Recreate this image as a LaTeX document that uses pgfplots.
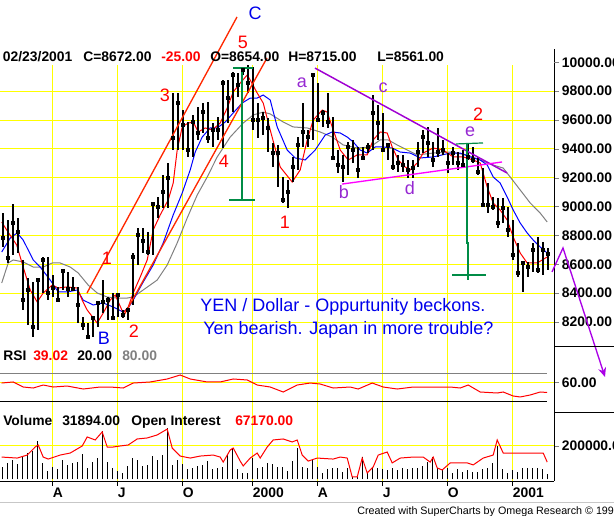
\documentclass[border=0pt]{standalone}
\usepackage{pgfplots}
\pgfplotsset{compat=1.18}
\usepackage{pgfplotstable}
\usepackage{fontspec}
\setmainfont{Liberation Sans}
\usetikzlibrary{arrows.meta}

\definecolor{gridyel}{RGB}{255,255,0}
\definecolor{chanred}{RGB}{255,40,0}
\definecolor{wavepur}{RGB}{160,0,210}
\definecolor{lettpur}{RGB}{150,40,210}
\definecolor{trimag}{RGB}{255,0,255}
\definecolor{mrkgreen}{RGB}{0,140,70}
\definecolor{txtblue}{RGB}{0,0,235}
\definecolor{arrowpur}{RGB}{170,0,230}
\definecolor{magray}{RGB}{128,128,128}

\newcommand{\lab}{\fontsize{10.4}{12}\selectfont\bfseries}
\newcommand{\bigf}{\fontsize{13.5}{16}\selectfont}

% weekly bars: week, high, low, close
\pgfplotstableread{
w h l c
0 8955 8720 8782
1 8907 8609 8644
2 9018 8664 8886
3 8921 8678 8824
4 8630 8283 8352
5 8505 8179 8422
6 8477 8096 8165
7 8498 8145 8491
8 8651 8401 8630
9 8651 8352 8401
10 8526 8373 8436
11 8443 8339 8352
12 8560 8422 8555
13 8547 8373 8429
14 8512 8422 8429
15 8443 8193 8318
16 8235 8145 8179
17 8193 8089 8096
18 8235 8096 8228
19 8339 8165 8332
20 8491 8262 8339
21 8373 8214 8352
22 8401 8214 8230
23 8401 8235 8387
24 8283 8228 8249
25 8304 8214 8283
26 8678 8318 8651
27 8852 8595 8803
28 8852 8678 8761
29 8824 8664 8685
30 9025 8664 9018
31 9066 8921 8997
32 9219 8990 9101
33 9302 8990 9198
34 9787 9392 9475
35 9787 9392 9718
36 9669 9392 9565
37 9586 9344 9392
38 9635 9344 9586
39 9690 9462 9510
40 9718 9510 9655
41 9725 9441 9475
42 9579 9413 9531
43 9621 9462 9531
44 9877 9406 9856
45 9877 9579 9752
46 9933 9655 9912
47 9926 9759 9843
48 9967 9912 9947
49 9981 9787 9856
50 9967 9531 9600
51 9718 9475 9600
52 9655 9496 9614
53 9614 9378 9545
54 9441 9274 9371
55 9427 9136 9371
56 9205 9025 9046
57 9184 8990 9101
58 9344 9170 9274
59 9482 9254 9427
60 9718 9413 9517
61 9531 9413 9482
62 9926 9462 9912
63 9856 9586 9600
64 9669 9552 9649
65 9787 9545 9586
66 9621 9323 9337
67 9392 9233 9288
68 9358 9170 9274
69 9448 9219 9413
70 9462 9302 9392
71 9413 9198 9254
72 9413 9323 9337
73 9441 9371 9413
74 9773 9392 9649
75 9704 9462 9579
76 9649 9378 9392
77 9441 9323 9427
78 9406 9254 9274
79 9358 9240 9302
80 9358 9240 9288
81 9323 9198 9254
82 9323 9198 9267
83 9448 9274 9378
84 9531 9371 9482
85 9552 9344 9441
86 9448 9274 9323
87 9545 9344 9378
88 9462 9358 9392
89 9371 9233 9302
90 9413 9288 9371
91 9378 9254 9302
92 9392 9267 9288
93 9441 9323 9344
94 9413 9302 9323
95 9344 9219 9240
96 9267 8997 9011
97 9163 8955 9011
98 9066 8976 8997
99 9060 8852 8886
100 9060 8886 8990
101 8997 8789 8838
102 8907 8630 8664
103 8748 8512 8540
104 8616 8408 8609
105 8616 8512 8581
106 8748 8547 8699
107 8789 8540 8560
108 8754 8526 8699
109 8715 8561 8672
}\bars

% weekly volume
\pgfplotstableread{
w v
0 77000
1 100000
2 116000
3 92000
4 142000
5 156000
6 170000
7 230000
8 96000
9 51000
10 77000
11 63000
12 116000
13 87000
14 96000
15 106000
16 152000
17 71000
18 106000
19 126000
20 291000
21 106000
22 67000
23 51000
24 37000
25 83000
26 130000
27 116000
28 83000
29 87000
30 140000
31 116000
32 146000
33 305000
34 87000
35 116000
36 92000
37 63000
38 71000
39 81000
40 87000
41 112000
42 63000
43 67000
44 77000
45 146000
46 186000
47 63000
48 37000
49 41000
50 126000
51 67000
52 77000
53 96000
54 92000
55 77000
56 77000
57 51000
58 110000
59 186000
60 77000
61 67000
62 116000
63 77000
64 41000
65 61000
66 71000
67 71000
68 47000
69 71000
70 17000
71 27000
72 136000
73 47000
74 77000
75 67000
76 61000
77 57000
78 67000
79 57000
80 67000
81 61000
82 67000
83 67000
84 81000
85 102000
86 136000
87 71000
88 57000
89 71000
90 41000
91 61000
92 43000
93 57000
94 47000
95 47000
96 63000
97 71000
98 96000
99 200000
100 61000
101 37000
102 57000
103 47000
104 67000
105 71000
106 71000
107 67000
108 61000
109 31894
}\vol

\pgfplotsset{
  panel/.style={
    anchor=north west, scale only axis, width=415.5pt,
    xmin=-0.54, xmax=110.26,
    axis y line*=right,
    tick align=outside, major tick length=3.75pt,
    every axis y line/.append style={line width=0.75pt},
    ymajorgrids, grid style={gridyel, line width=0.75pt},
    yticklabel style={font=\lab, anchor=west, inner sep=0pt, xshift=2pt},
    scaled y ticks=false,
    /pgf/number format/fixed, /pgf/number format/fixed zerofill,
    /pgf/number format/precision=2, /pgf/number format/1000 sep={},
    /pgf/number format/assume math mode=true,
  }
}

\begin{document}
\begin{tikzpicture}
\path[use as bounding box] (0,0) rectangle (460.5pt,-387pt);

% ---- price panel
\begin{axis}[panel, axis x line=none, at={(0pt,-36.75pt)}, height=223.5pt,
  ymin=8026.8, ymax=10092.2, ytick={8200,8400,...,9800},
  extra y ticks={10000}, extra y tick style={grid=none}, clip=false]
\pgfplotsinvokeforeach{10,23,36,50,63,76,89,102}{
  \draw[gridyel, line width=0.75pt] (axis cs:#1,9981) -- (axis cs:#1,8026.8);}
\addplot[magray, line width=0.75pt, mark=none] coordinates {
(-0.2,8470)(1.1,8609)(2.1,8630)(4.1,8616)(6.1,8581)(8.1,8581)(9.9,8609)
(11.5,8609)(13.5,8581)(15.1,8540)(17.1,8456)(18.9,8401)(20.9,8373)(22.9,8366)
(24.9,8366)(26.1,8373)(28.1,8422)(30.9,8491)(32.9,8595)(34.9,8748)(36.9,8921)
(38.9,9080)(40.9,9205)(42.9,9344)(45.5,9482)(48.1,9579)(50.1,9635)(52.1,9655)
(53.5,9642)(56.1,9586)(58.1,9552)(60.9,9545)(63.5,9517)(65.9,9482)(68.1,9427)
(70.9,9406)(73.5,9413)(75.5,9462)(77.1,9462)(78.9,9427)(80.9,9392)(82.9,9358)
(86.1,9371)(89.5,9378)(92.9,9358)(95.5,9323)(98.1,9288)(100.1,9267)(101.5,9205)
(103.5,9115)(105.5,9025)(107.5,8955)(108.9,8893)};
\addplot[blue, line width=0.75pt, mark=none] coordinates {
(-0.2,8685)(1.5,8782)(2.9,8817)(4.1,8768)(6.1,8630)(7.5,8581)(9.5,8491)
(11.1,8408)(12.9,8408)(14.9,8422)(16.1,8352)(18.1,8318)(20.1,8332)(22.1,8304)
(24.1,8269)(25.1,8297)(26.1,8352)(28.1,8477)(30.1,8595)(32.1,8748)(34.1,8942)
(35.9,9094)(37.5,9254)(38.5,9378)(39.9,9482)(41.5,9545)(42.9,9545)(44.5,9586)
(46.1,9649)(47.9,9718)(49.5,9752)(50.9,9752)(52.1,9773)(53.5,9739)(54.9,9552)
(56.9,9392)(58.5,9337)(60.5,9323)(62.5,9392)(64.5,9496)(65.9,9517)(67.5,9510)
(68.9,9482)(70.1,9448)(71.5,9392)(72.9,9371)(74.5,9413)(76.1,9413)(77.9,9406)
(79.5,9378)(81.5,9371)(83.5,9337)(86.1,9344)(89.5,9371)(91.5,9371)(93.5,9344)
(95.5,9323)(96.9,9288)(98.1,9205)(99.5,9163)(100.9,9066)(102.1,8976)(103.5,8886)
(104.9,8817)(106.1,8768)(107.5,8720)(108.9,8678)};
\addplot[red, line width=0.75pt, mark=none] coordinates {
(-0.2,8893)(0.8,8838)(2.8,8734)(4.1,8581)(5.5,8422)(6.9,8339)(8.1,8401)
(9.9,8456)(11.1,8436)(12.9,8443)(14.9,8436)(15.9,8352)(16.9,8283)(18.9,8193)
(20.1,8262)(21.5,8352)(22.5,8387)(24.1,8262)(25.1,8304)(26.1,8401)(27.5,8512)
(28.9,8630)(30.1,8838)(31.5,8942)(33.1,9046)(34.1,9163)(34.9,9392)(35.9,9552)
(37.1,9579)(38.1,9586)(39.1,9517)(40.5,9545)(41.9,9531)(43.5,9579)(44.9,9683)
(46.1,9794)(47.5,9856)(48.9,9912)(49.5,9877)(50.9,9787)(52.1,9718)(53.5,9531)
(55.5,9274)(57.9,9170)(59.5,9254)(60.9,9462)(62.1,9600)(63.9,9669)(64.9,9655)
(65.9,9552)(67.5,9392)(69.1,9323)(70.9,9358)(72.9,9358)(74.1,9462)(75.5,9517)
(76.9,9510)(77.9,9413)(79.1,9323)(80.5,9274)(81.5,9254)(82.9,9302)(84.1,9371)
(86.1,9406)(88.1,9392)(90.1,9344)(92.1,9344)(94.1,9323)(95.5,9302)(96.9,9136)
(98.1,9025)(99.5,8976)(100.9,8907)(102.1,8789)(103.5,8678)(104.9,8609)
(106.9,8609)(108.9,8651)};
\addplot[only marks, black, mark=square*, mark size=1.1pt,
  error bars/.cd, y dir=both, y explicit, error mark=none,
  error bar style={line width=1.3pt, black}]
  table[x=w, y=c, y error plus expr=\thisrow{h}-\thisrow{c},
        y error minus expr=\thisrow{c}-\thisrow{l}] {\bars};
% wave C channel
\addplot[chanred, line width=1pt, mark=none] coordinates {(16.86,8401) (46.86,10314)};
\addplot[chanred, line width=1pt, mark=none] coordinates {(24.06,8235) (52.86,10030)};
% a-e triangle
\addplot[wavepur, line width=1.1pt, mark=none] coordinates {(62.46,9960) (100.86,9233)};
\addplot[trimag, line width=1pt, mark=none] coordinates {(67.86,9156) (99.86,9309)};
% measured moves
\addplot[mrkgreen, line width=0.9pt, mark=none] coordinates {(47.86,9960) (47.86,9046)};
\addplot[mrkgreen, line width=0.9pt, mark=none] coordinates {(46.06,9960) (50.06,9960)};
\addplot[mrkgreen, line width=0.9pt, mark=none] coordinates {(45.26,9046) (50.46,9046)};
\addplot[mrkgreen, line width=0.9pt, mark=none] coordinates {(92.86,9434) (92.86,8748) (93.06,8748) (93.06,8491)};
\addplot[mrkgreen, line width=0.9pt, mark=none] coordinates {(90.66,9434) (96.06,9441)};
\addplot[mrkgreen, line width=0.9pt, mark=none] coordinates {(89.86,8526) (96.66,8526)};
% projection arrow
\addplot[arrowpur, line width=1pt, mark=none, -{Stealth[length=7pt,width=6pt]}]
  coordinates {(109.86,8547) (112.06,8713) (120.46,7819)};
% wave labels
\node[text=red, font=\bigf] at (axis cs:32.46,9773) {3};
\node[text=red, font=\bigf] at (axis cs:48.06,10141) {5};
\node[text=red, font=\bigf] at (axis cs:44.26,9316) {4};
\node[text=txtblue, font=\bigf] at (axis cs:50.46,10342) {C};
\node[text=red, font=\bigf] at (axis cs:20.86,8644) {1};
\node[text=red, font=\bigf] at (axis cs:26.26,8138) {2};
\node[text=txtblue, font=\bigf] at (axis cs:20.26,8089) {B};
\node[text=red, font=\bigf] at (axis cs:56.46,8893) {1};
\node[text=red, font=\bigf] at (axis cs:95.06,9642) {2};
\node[text=lettpur, font=\bigf] at (axis cs:59.86,9857) {a};
\node[text=lettpur, font=\bigf] at (axis cs:68.26,9101) {b};
\node[text=lettpur, font=\bigf] at (axis cs:76.06,9822) {c};
\node[text=lettpur, font=\bigf] at (axis cs:81.46,9129) {d};
\node[text=lettpur, font=\bigf] at (axis cs:93.46,9517) {e};
\end{axis}

% ---- RSI panel
\begin{axis}[panel, axis x line=none, at={(0pt,-260.25pt)}, height=49.5pt,
  ymin=-4.2, ymax=134.74, ytick={60}]
\pgfplotsinvokeforeach{10,23,36,50,63,76,89,102}{
  \draw[gridyel, line width=0.75pt] (axis cs:#1,-4.2) -- (axis cs:#1,134.74);}
\addplot[magray, line width=0.75pt, mark=none] coordinates {(-0.54,80) (108.86,80)};
\addplot[black, line width=0.75pt, mark=none] coordinates {(-0.54,20) (108.86,20)};
\addplot[red, line width=0.75pt, mark=none] coordinates {
(-0.2,58.9)(2.1,61.1)(4.1,50.5)(6.1,48.4)(8.1,54.7)(10.1,50.5)(12.9,52.6)
(16.1,46.3)(19.5,50.5)(21.5,50.5)(24.1,48.4)(26.1,58.9)(29.5,61.1)(32.9,67.4)
(35.5,75.8)(37.5,67.4)(40.9,61.1)(43.5,61.1)(46.1,67.4)(48.9,65.3)(50.9,54.7)
(53.5,50.5)(56.1,40.0)(58.9,54.7)(61.5,58.9)(63.5,56.8)(66.1,48.4)(69.5,50.5)
(71.1,46.3)(73.9,58.9)(76.1,50.5)(78.9,46.3)(82.1,50.5)(86.1,50.5)(89.5,50.5)
(91.5,48.4)(93.1,54.7)(95.5,40.0)(98.9,37.9)(100.1,40.0)(102.1,31.6)(103.5,29.5)
(105.5,33.7)(107.5,40.0)(108.9,39.02)};
\end{axis}

% ---- volume panel
\begin{axis}[panel, at={(0pt,-309.75pt)}, height=51pt,
  ymin=-8955, ymax=397000, ytick={200000},
  axis x line*=bottom, every axis x line/.append style={line width=0.75pt},
  xtick={10,23,36,50,63,76,89,102},
  xticklabels={A,J,O,2000,A,J,O,2001},
  xticklabel style={font=\lab, anchor=north west, inner sep=0pt, yshift=-1pt},
  x tick style={line width=0.75pt, black}]
\pgfplotsinvokeforeach{10,23,36,50,63,76,89,102}{
  \draw[gridyel, line width=0.75pt] (axis cs:#1,-8955) -- (axis cs:#1,397000);}
\addplot[ycomb, black, line width=0.75pt, mark=none] table[x=w, y=v] {\vol};
\addplot[red, line width=0.75pt, mark=none] coordinates {
(-0.2,134000)(2.9,128000)(4.9,146000)(6.5,194000)(7.1,206000)(8.1,134000)
(9.1,122000)(11.5,146000)(13.5,158000)(15.9,200000)(16.9,254000)(18.5,236000)
(19.9,284000)(20.9,194000)(22.1,194000)(23.5,200000)(25.1,206000)(26.9,242000)
(28.9,248000)(30.9,266000)(32.9,301000)(33.9,188000)(35.5,140000)(37.5,128000)
(39.5,140000)(42.1,146000)(43.5,134000)(44.1,104000)(45.5,176000)(46.1,188000)
(47.5,110000)(48.1,81000)(49.5,128000)(50.9,158000)(51.5,128000)(52.9,194000)
(54.1,236000)(56.1,242000)(57.9,224000)(58.9,236000)(59.9,146000)(61.1,110000)
(62.9,128000)(66.1,122000)(67.5,134000)(68.9,128000)(69.9,15000)(70.9,15000)
(71.9,128000)(72.9,39000)(74.1,75000)(75.1,146000)(76.9,164000)(77.9,99000)
(79.5,128000)(82.1,134000)(84.1,134000)(85.5,104000)(86.1,134000)(86.9,69000)
(87.9,57000)(89.5,99000)(92.9,99000)(94.1,87000)(96.1,128000)(98.1,146000)
(98.9,236000)(100.1,158000)(102.1,158000)(106.1,158000)(108.1,158000)(108.9,104000)};
\end{axis}

% ---- texts and frame pieces
\begin{scope}[x=0.75pt, y=-0.75pt]
\draw[black, line width=0.75pt] (554,347) -- (614,347);
\draw[black, line width=0.75pt] (554,413) -- (614,413);
\draw[black!22, line width=0.75pt] (0,502) -- (614,502);
\tikzset{hd/.style={anchor=base west, inner sep=0pt, font=\lab}}
\node[hd] at (2.7,62) {02/23/2001};
\node[hd] at (83,62) {C=8672.00};
\node[hd, text=red] at (161,62) {-25.00};
\node[hd] at (210,62) {O=8654.00};
\node[hd] at (288,62) {H=8715.00};
\node[hd] at (377,62) {L=8561.00};
\node[hd] at (3,361) {RSI};
\node[hd, text=red] at (33,361) {39.02};
\node[hd] at (77,361) {20.00};
\node[hd, text=magray] at (122,361) {80.00};
\node[hd] at (3,426) {Volume};
\node[hd] at (62,426) {31894.00};
\node[hd] at (131,426) {Open Interest};
\node[hd, text=red] at (235,426) {67170.00};
\node[anchor=base west, inner sep=0pt, text=txtblue, font=\bigf] at (200,312)
  {YEN / Dollar - Oppurtunity beckons.};
\node[anchor=base west, inner sep=0pt, text=txtblue, font=\bigf] at (203,335)
  {Yen bearish. Japan in more trouble?};
\node[anchor=base west, inner sep=0pt, font=\fontsize{8.05}{10}\selectfont] at (357,514)
  {Created with SuperCharts by Omega Research © 1997};
\end{scope}
\end{tikzpicture}
\end{document}
